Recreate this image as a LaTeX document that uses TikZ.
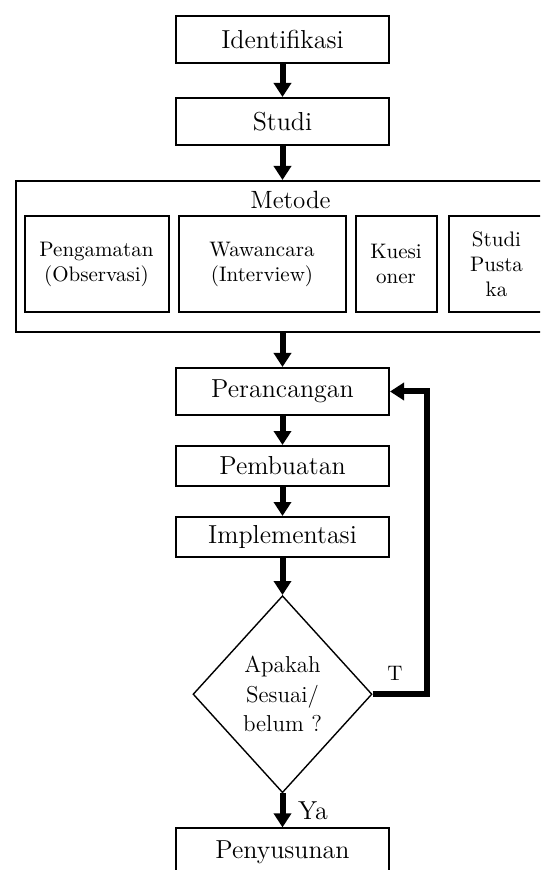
\documentclass[tikz,border=0pt]{standalone}
\usepackage{tikz}
\usetikzlibrary{shapes.geometric, arrows.meta, positioning, calc}
\tikzstyle{process} = [rectangle,
minimum width=106.5pt,
minimum height=23.5pt,
inner sep=0pt,
text centered,
draw=black,
line width=1pt,
font=\fontsize{13}{15}\selectfont]
\tikzstyle{group} = [rectangle,
minimum width=267pt,
minimum height=75.5pt,
draw=black,
line width=1pt]
\tikzstyle{method} = [rectangle,
minimum height=48pt,
inner sep=0pt,
align=center,
draw=black,
line width=1pt,
font=\fontsize{10.5}{12.5}\selectfont]
\tikzstyle{decision} = [diamond,
minimum width=89.5pt,
minimum height=98.5pt,
inner sep=0pt,
align=center,
draw=black,
line width=0.7pt,
font=\fontsize{11.5}{14.75}\selectfont]
\tikzstyle{arrow} = [line width=3pt,-{Triangle[width=8.5pt,length=7pt]}]

\begin{document}
\begin{tikzpicture}
                \useasboundingbox (0,0) rectangle (270pt,-435pt);
                \clip (0,0) rectangle (270pt,-435pt);

                \node (ident) [process] at (141.25pt,-19.75pt) {Identifikasi};
                \node (studi) [process, below=16.5pt of ident] {Studi};
                \node (metode) [group, below=17pt of studi] {};
                \node (metodetitle) [anchor=base, font=\fontsize{12.5}{15}\selectfont] at ([xshift=4pt,yshift=-14.5pt]metode.north) {Metode};
                \node (amat) [method, minimum width=72pt, anchor=north west] at ([xshift=4.5pt,yshift=-17.5pt]metode.north west) {Pengamatan\\(Observasi)};
                \node (wawan) [method, minimum width=83.5pt, right=4pt of amat] {Wawancara\\(Interview)};
                \node (kuesi) [method, minimum width=40.5pt, right=4pt of wawan] {Kuesi\\oner};
                \node (pustaka) [method, minimum width=48pt, right=5pt of kuesi] {Studi\\Pusta\\ka};
                \node (ranc) [process, below=17pt of metode] {Perancangan};
                \node (buat) [process, minimum height=20pt, below=14.5pt of ranc] {Pembuatan};
                \node (impl) [process, minimum height=20pt, below=14.5pt of buat] {Implementasi};
                \node (cek) [decision, below=18.5pt of impl] {Apakah\\Sesuai/\\belum ?};
                \node (susun) [process, below=17pt of cek] {Penyusunan};

                \draw [arrow] (ident) -- (studi);
                \draw [arrow] (studi) -- (metode);
                \draw [arrow] (metode) -- (ranc);
                \draw [arrow] (ranc) -- (buat);
                \draw [arrow] (buat) -- (impl);
                \draw [arrow] (impl) -- (cek);
                \draw [arrow] (cek) -- node[anchor=west, xshift=3pt, font=\fontsize{13}{15}\selectfont] {Ya} (susun);
                \draw [arrow] (cek.east) -- node[above, pos=0.41, yshift=2pt, font=\fontsize{10.5}{12}\selectfont] {T} ++(27pt,0) |- (ranc.east);
\end{tikzpicture}
\end{document}
